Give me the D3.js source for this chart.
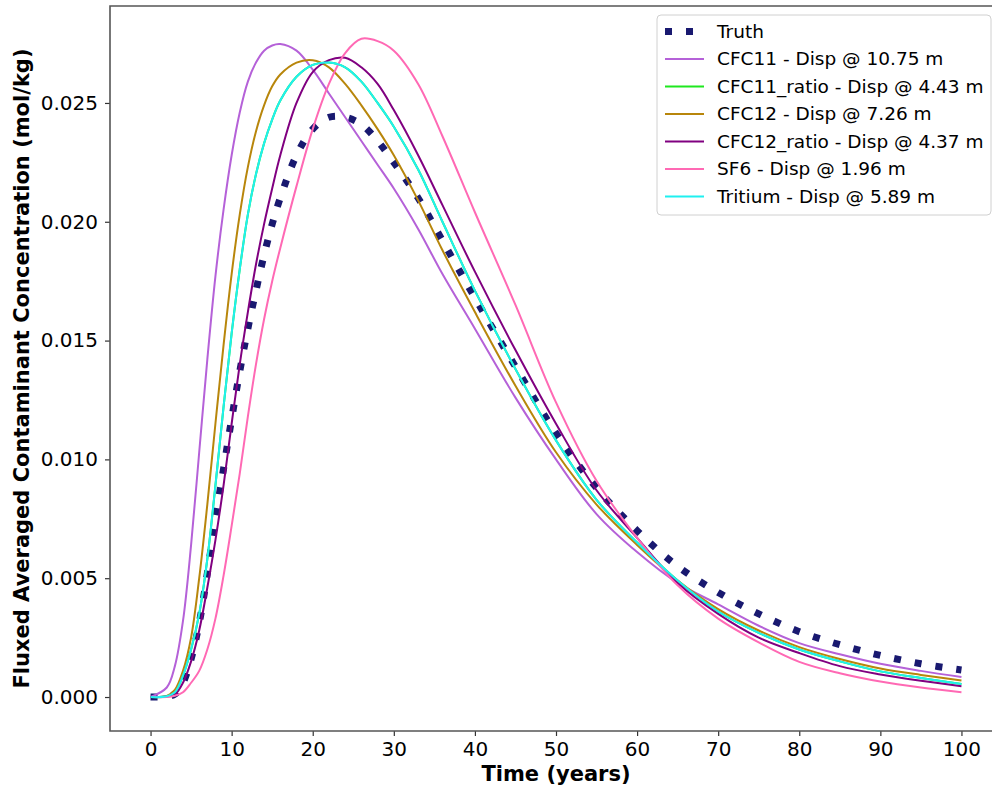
<!DOCTYPE html>
<html>
<head>
<meta charset="utf-8">
<script src="https://cdn.jsdelivr.net/npm/d3@7"></script>
<style>
  body { margin: 0; background: #fff; }
  svg text { font-family: "DejaVu Sans", sans-serif; fill: #000; }
</style>
</head>
<body>
<svg id="chart" width="992" height="789"></svg>
<script>
// time grid (years)
const years = [0, 2, 3, 4, 5, 6, 7, 8, 9, 10, 11, 12, 13, 14, 15, 16, 18, 20, 22, 24, 26, 28, 30, 33, 36, 40, 45, 50, 55, 60, 65, 70, 75, 80, 85, 90, 95, 100];

// concentrations (mol/kg)
const truth = [0, 0.00002, 0.00012, 0.0006, 0.0016, 0.0031, 0.0052, 0.0075, 0.0096, 0.0117, 0.0137, 0.0155, 0.0171, 0.0186, 0.0199, 0.0210, 0.0228, 0.0239, 0.0244, 0.0244, 0.0241, 0.0234, 0.0225, 0.0210, 0.0192, 0.0168, 0.0139, 0.0111, 0.0088, 0.0070, 0.0055, 0.0044, 0.0035, 0.00275, 0.0022, 0.00175, 0.0014, 0.00114];
const cfc11 = [0, 0.0004, 0.0013, 0.0032, 0.0064, 0.0103, 0.0142, 0.0177, 0.0205, 0.0228, 0.0246, 0.0259, 0.0267, 0.0272, 0.02742, 0.02748, 0.0272, 0.0264, 0.0254, 0.0244, 0.0234, 0.0224, 0.0214, 0.0197, 0.0178, 0.0155, 0.0126, 0.0100, 0.0077, 0.0061, 0.0048, 0.0039, 0.0030, 0.00227, 0.0018, 0.0014, 0.0011, 0.00084];
const cfc11Ratio = [0, 0.00003, 0.0002, 0.0009, 0.0020, 0.0035, 0.0058, 0.0089, 0.0122, 0.0153, 0.0180, 0.0203, 0.0220, 0.0233, 0.0243, 0.0251, 0.0261, 0.0266, 0.0267, 0.0265, 0.0259, 0.0250, 0.0240, 0.0222, 0.0200, 0.0171, 0.0138, 0.0108, 0.0083, 0.0065, 0.0049, 0.0036, 0.0027, 0.0020, 0.0015, 0.00108, 0.0008, 0.00055];
const cfc12 = [0, 0.00005, 0.0003, 0.0011, 0.0025, 0.0050, 0.0081, 0.0115, 0.0148, 0.0178, 0.0203, 0.0223, 0.0238, 0.0249, 0.0257, 0.0262, 0.0267, 0.0268, 0.0265, 0.0258, 0.0249, 0.0239, 0.0228, 0.0209, 0.0188, 0.0162, 0.0131, 0.0103, 0.0081, 0.0064, 0.0049, 0.0037, 0.0028, 0.0021, 0.0016, 0.0012, 0.00093, 0.0007];
const cfc12Ratio = [0, 0.00002, 0.0001, 0.0006, 0.0015, 0.0028, 0.0046, 0.0066, 0.0089, 0.0115, 0.0140, 0.0162, 0.0182, 0.0199, 0.0214, 0.0228, 0.0250, 0.0263, 0.0268, 0.0269, 0.0265, 0.0258, 0.0247, 0.0228, 0.0207, 0.0179, 0.0146, 0.0115, 0.0087, 0.0067, 0.0048, 0.0035, 0.0025, 0.00185, 0.0013, 0.00095, 0.00068, 0.00045];
const sf6 = [0, 0, 0.00005, 0.0002, 0.0006, 0.0011, 0.0020, 0.0033, 0.0051, 0.0072, 0.0094, 0.0118, 0.0140, 0.0159, 0.0175, 0.0189, 0.0215, 0.0239, 0.0258, 0.0271, 0.0277, 0.0276, 0.0272, 0.0258, 0.0236, 0.0204, 0.0165, 0.0124, 0.0091, 0.0067, 0.0047, 0.0033, 0.0023, 0.00148, 0.0010, 0.00065, 0.0004, 0.0002];
const tritium = [0, 0.00003, 0.0002, 0.0009, 0.0020, 0.0035, 0.0058, 0.0089, 0.0122, 0.0153, 0.0180, 0.0203, 0.0220, 0.0233, 0.0243, 0.0251, 0.0261, 0.0266, 0.0267, 0.0265, 0.0259, 0.0250, 0.0240, 0.0222, 0.0200, 0.0171, 0.0138, 0.0108, 0.0083, 0.0065, 0.0049, 0.0036, 0.0027, 0.0020, 0.0015, 0.00108, 0.0008, 0.00055];

const labels = ["Truth", "CFC11 - Disp @ 10.75 m", "CFC11_ratio - Disp @ 4.43 m", "CFC12 - Disp @ 7.26 m",
  "CFC12_ratio - Disp @ 4.37 m", "SF6 - Disp @ 1.96 m", "Tritium - Disp @ 5.89 m"];
const xTicks = [0, 10, 20, 30, 40, 50, 60, 70, 80, 90, 100];
const yTicks = [0, 0.005, 0.010, 0.015, 0.020, 0.025];

const series = [
  { name: labels[0], values: truth, color: "#191970", width: 7, dash: "7,14" },
  { name: labels[1], values: cfc11, color: "#b561d8", width: 2 },
  { name: labels[2], values: cfc11Ratio, color: "#1fe81f", width: 2 },
  { name: labels[3], values: cfc12, color: "#b8860b", width: 2 },
  { name: labels[4], values: cfc12Ratio, color: "#800080", width: 2 },
  { name: labels[5], values: sf6, color: "#ff69b4", width: 2 },
  { name: labels[6], values: tritium, color: "#1ff0f0", width: 2 }
];

// plot area (right edge falls outside the picture, as in the original)
const box = { left: 110, right: 1002, top: 6, bottom: 731 };

const svg = d3.select("#chart");

const x = d3.scaleLinear().domain([-5, 105]).range([box.left, box.right]);
const y = d3.scaleLinear().domain([-0.00143, 0.02908]).range([box.bottom, box.top]);

svg.append("defs").append("clipPath").attr("id", "plotClip")
  .append("rect").attr("x", box.left).attr("y", box.top)
  .attr("width", box.right - box.left).attr("height", box.bottom - box.top);

// lines
const line = d3.line()
  .x((d, i) => x(years[i]))
  .y(d => y(d))
  .curve(d3.curveCatmullRom.alpha(0.5));

svg.append("g").attr("clip-path", "url(#plotClip)")
  .selectAll("path")
  .data(series)
  .join("path")
  .attr("d", d => line(d.values))
  .attr("fill", "none")
  .attr("stroke", d => d.color)
  .attr("stroke-width", d => d.width)
  .attr("stroke-dasharray", d => d.dash || null)
  .attr("stroke-linecap", "butt");

// axes
const xAxis = svg.append("g")
  .attr("transform", `translate(0,${box.bottom})`)
  .call(d3.axisBottom(x).tickValues(xTicks).tickSize(5).tickPadding(6).tickFormat(d3.format("d")));
const yAxis = svg.append("g")
  .attr("transform", `translate(${box.left},0)`)
  .call(d3.axisLeft(y).tickValues(yTicks).tickSize(5).tickPadding(7).tickFormat(d3.format(".3f")));

[xAxis, yAxis].forEach(a => {
  a.select(".domain").remove();
  a.selectAll(".tick line").attr("stroke", "#333").attr("stroke-width", 1.2);
  a.selectAll(".tick text").style("font-size", "20px").attr("fill", "#000");
});

// spines: left, top, bottom
svg.append("path")
  .attr("d", `M${box.right},${box.top}H${box.left}V${box.bottom}H${box.right}`)
  .attr("fill", "none")
  .attr("stroke", "#555")
  .attr("stroke-width", 1.6);

// axis titles
svg.append("text")
  .attr("x", (box.left + box.right) / 2)
  .attr("y", 781)
  .attr("text-anchor", "middle")
  .style("font-size", "21px")
  .style("font-weight", "bold")
  .text("Time (years)");

svg.append("text")
  .attr("transform", `translate(29,${(box.top + box.bottom) / 2}) rotate(-90)`)
  .attr("text-anchor", "middle")
  .style("font-size", "21px")
  .style("font-weight", "bold")
  .text("Fluxed Averaged Contaminant Concentration (mol/kg)");

// legend
const legend = svg.append("g");
legend.append("rect")
  .attr("x", 657).attr("y", 15)
  .attr("width", 334).attr("height", 200)
  .attr("rx", 4)
  .attr("fill", "#fff").attr("fill-opacity", 0.8)
  .attr("stroke", "#d0d0d0").attr("stroke-width", 1);

const items = legend.selectAll(".item")
  .data(series)
  .join("g")
  .attr("class", "item")
  .attr("transform", (d, i) => `translate(0,${31.5 + i * 27.5})`);

items.append("line")
  .attr("x1", 665).attr("x2", 704)
  .attr("y1", 0).attr("y2", 0)
  .attr("stroke", d => d.color)
  .attr("stroke-width", d => d.width)
  .attr("stroke-dasharray", d => d.dash || null);

items.append("text")
  .attr("x", 717)
  .attr("y", 0)
  .attr("dy", "0.35em")
  .style("font-size", "18.5px")
  .text(d => d.name);
</script>
</body>
</html>
